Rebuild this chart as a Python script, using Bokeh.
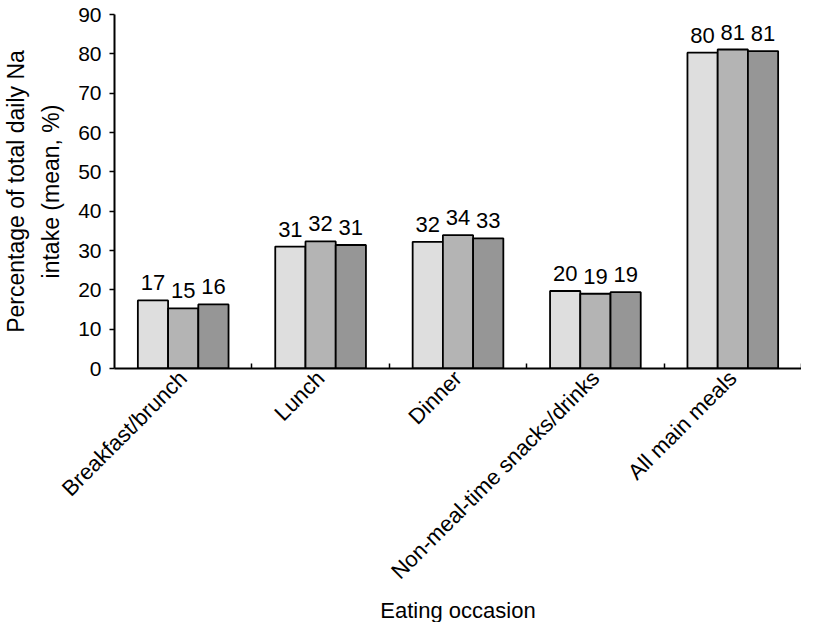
import math
import numpy as np
from bokeh.plotting import figure
from bokeh.models import ColumnDataSource, FixedTicker, LabelSet, Title, Range1d
from bokeh.core.properties import value
from bokeh.embed import file_html
from bokeh.resources import INLINE

categories = ["Breakfast/brunch", "Lunch", "Dinner",
              "Non-meal-time snacks/drinks", "All main meals"]
series_a = [17.3, 31.0, 32.2, 19.7, 80.3]
series_b = [15.3, 32.3, 33.9, 19.0, 81.1]
series_c = [16.3, 31.4, 33.1, 19.4, 80.7]
y_ticks = [0, 10, 20, 30, 40, 50, 60, 70, 80, 90]
colors = ["#dedede", "#b4b4b4", "#969696"]
x_title = "Eating occasion"
y_title = "Percentage of total daily Na\nintake (mean, %)"

FONT = "Liberation Sans"
n = len(categories)
centers = np.arange(n) + 0.5
bar_w = 0.22
offsets = [-bar_w, 0.0, bar_w]

p = figure(width=801, height=622, x_range=Range1d(0, n), y_range=Range1d(0, 90),
           output_backend="svg", toolbar_location=None,
           min_border_left=113, min_border_top=14, min_border_right=0,
           min_border_bottom=252)
p.xgrid.visible = False
p.ygrid.visible = False
p.outline_line_color = None
p.background_fill_color = "white"
p.border_fill_color = "white"

for vals, off, col in zip([series_a, series_b, series_c], offsets, colors):
    src = ColumnDataSource(dict(x=centers + off, top=vals,
                                label=[str(int(round(v))) for v in vals]))
    p.vbar(x="x", top="top", bottom=0, width=bar_w, source=src,
           fill_color=col, line_color="black", line_width=1.8)
    p.add_layout(LabelSet(x="x", y="top", text="label", source=src,
                          text_align="center", text_baseline="alphabetic",
                          y_offset=10, text_font=value(FONT),
                          text_font_size=value("22px"),
                          text_color="black"))

xa = p.xaxis[0]
xa.ticker = FixedTicker(ticks=list(centers), minor_ticks=list(range(1, n + 1)))
xa.major_label_overrides = {float(c): name for c, name in zip(centers, categories)}
xa.major_label_orientation = math.pi / 4
xa.major_tick_in = 0
xa.major_tick_out = 0
xa.minor_tick_in = 5
xa.minor_tick_out = 0
xa.minor_tick_line_color = "black"
xa.minor_tick_line_width = 1.5
xa.axis_line_width = 2
xa.axis_line_color = "black"
xa.major_label_text_font = FONT
xa.major_label_text_font_size = "22px"
xa.major_label_text_color = "black"
xa.major_label_standoff = 6

p.add_layout(Title(text=x_title, align="center", standoff=0,
                   text_font=FONT, text_font_size="22px",
                   text_font_style="normal", text_color="black"), "below")

ya = p.yaxis[0]
ya.ticker = FixedTicker(ticks=y_ticks)
ya.major_tick_in = 0
ya.major_tick_out = 5
ya.major_tick_line_width = 1.5
ya.major_tick_line_color = "black"
ya.minor_tick_line_color = None
ya.axis_line_width = 2
ya.axis_line_color = "black"
ya.major_label_text_font = FONT
ya.major_label_text_font_size = "21px"
ya.major_label_text_color = "black"
ya.major_label_standoff = 8
ya.axis_label = y_title
ya.axis_label_text_font = FONT
ya.axis_label_text_font_size = "23px"
ya.axis_label_text_font_style = "normal"
ya.axis_label_text_color = "black"
ya.axis_label_text_line_height = 1.35
ya.axis_label_standoff = 11

open("out.html", "w").write(file_html(p, INLINE))
